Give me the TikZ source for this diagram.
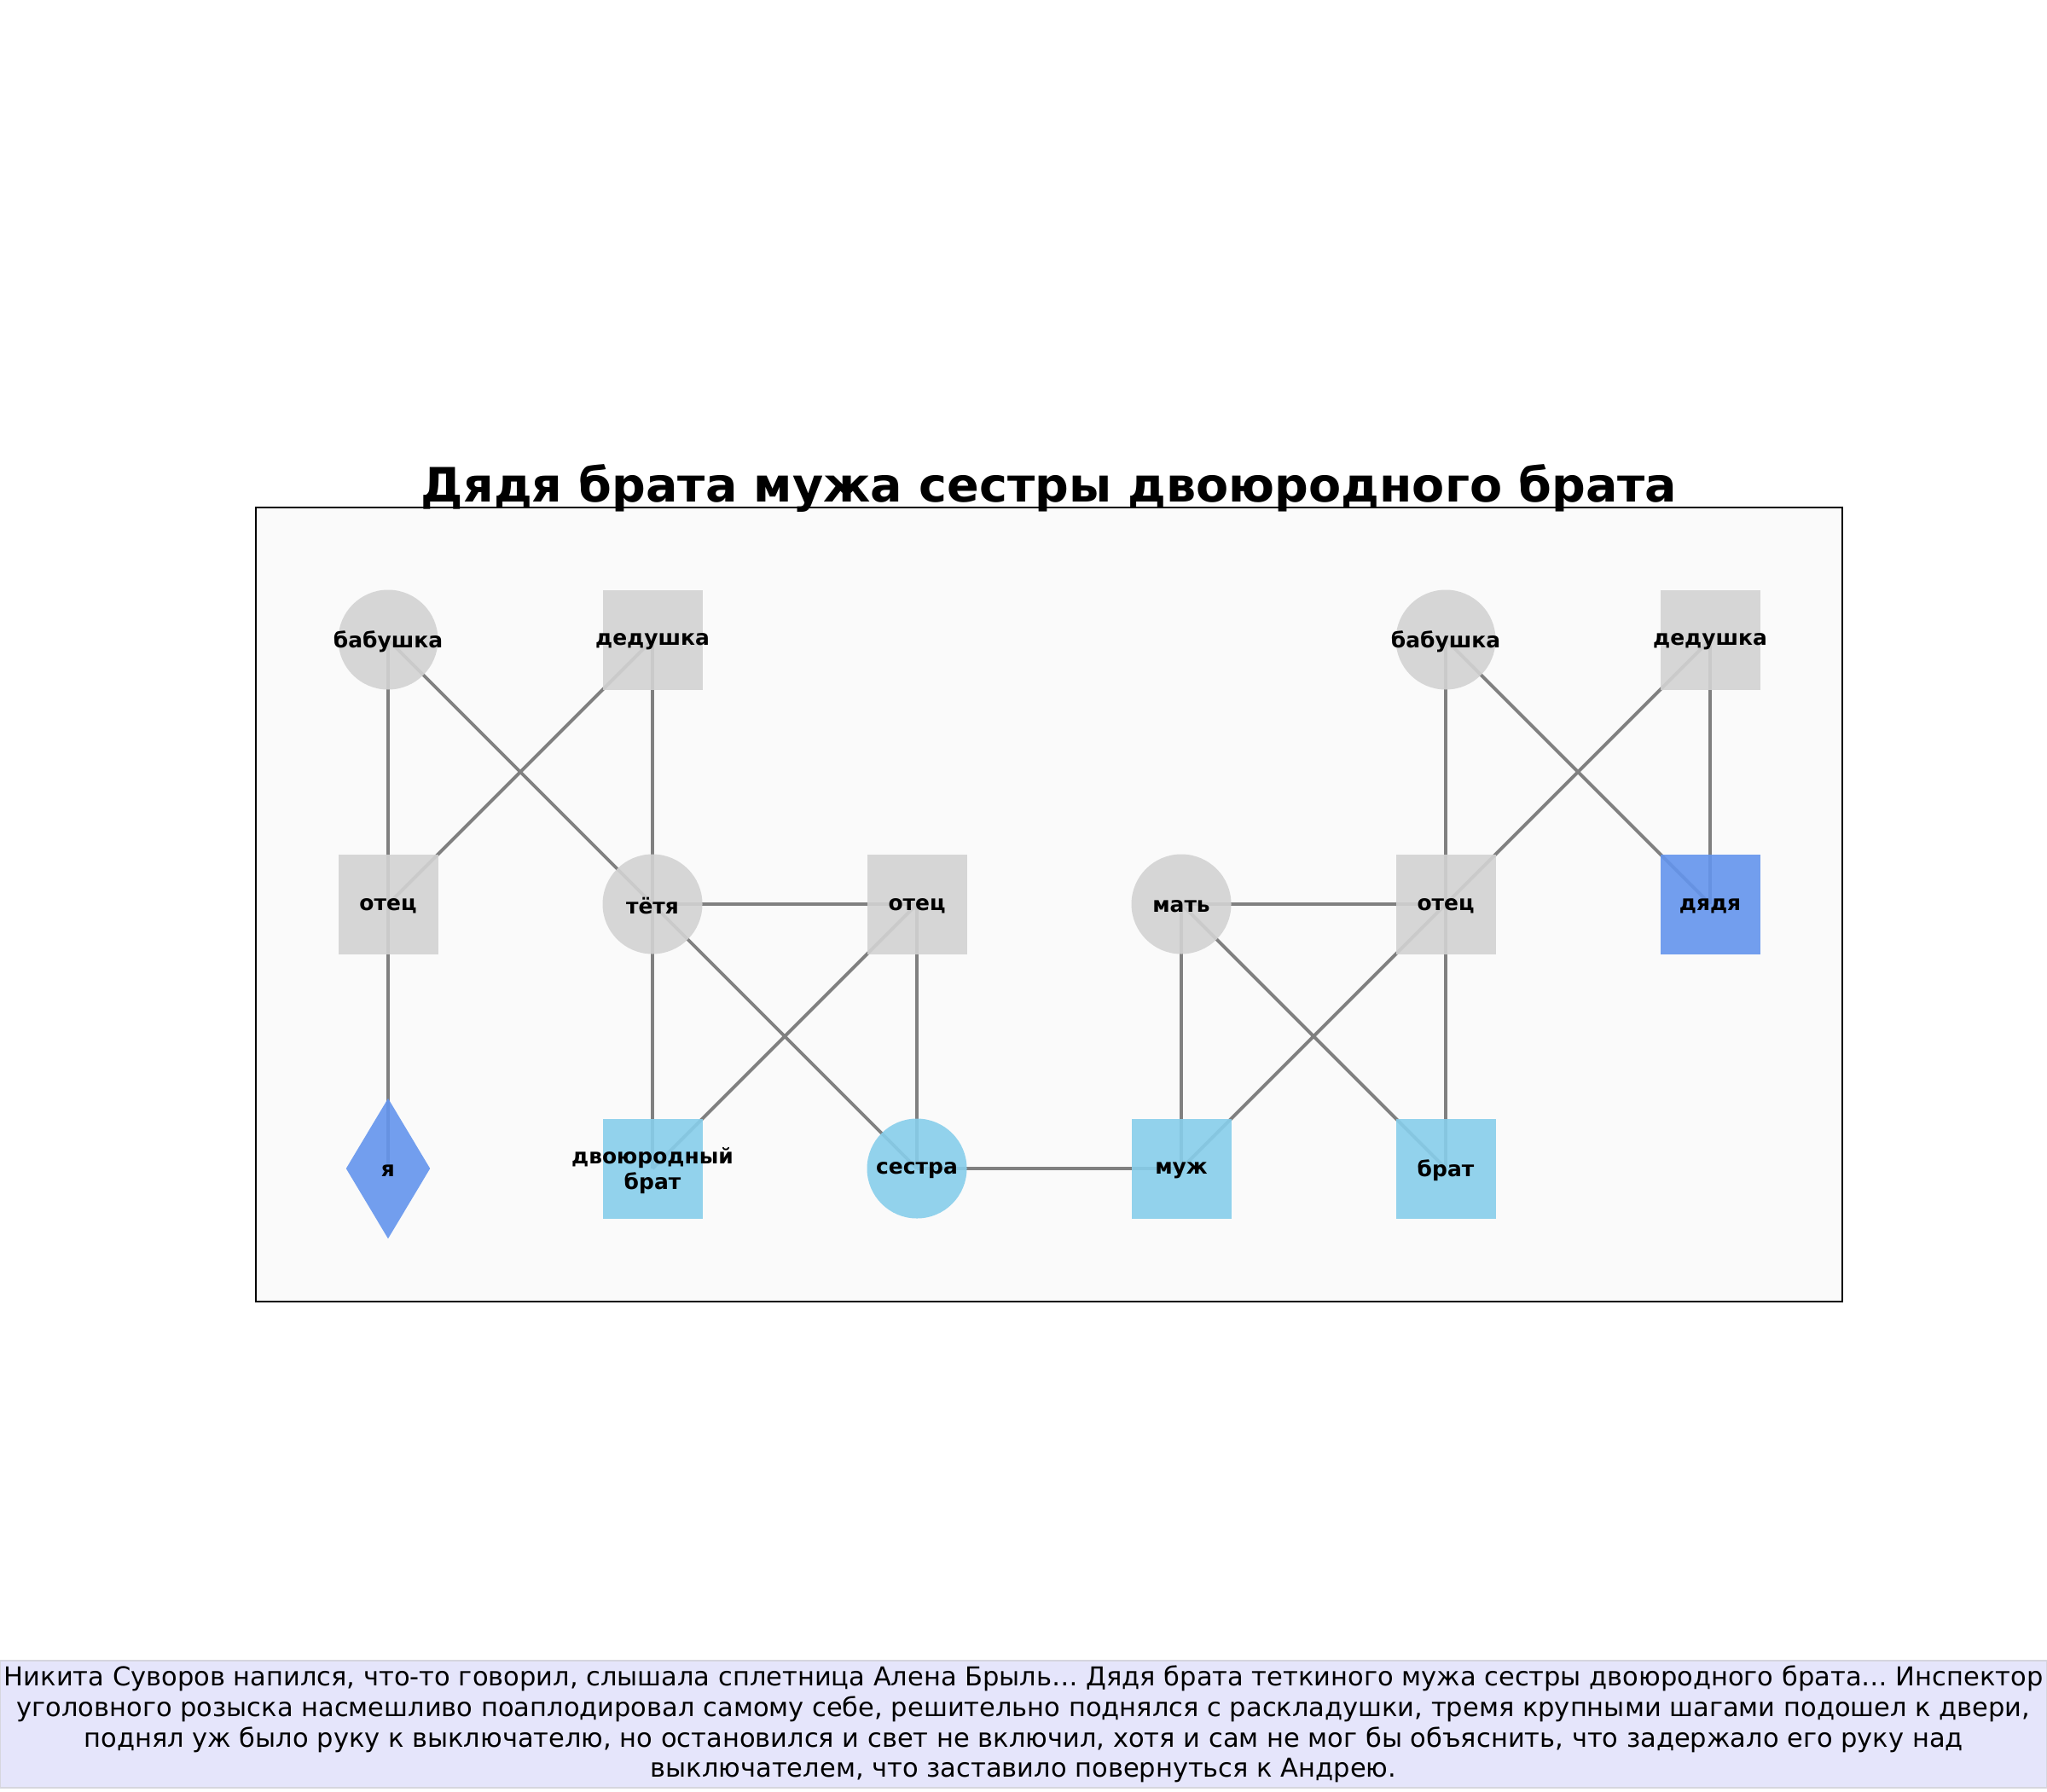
\documentclass[tikz,border=0pt]{standalone}
\usepackage{fontspec}
\setmainfont{DejaVu Sans}
\usetikzlibrary{positioning, shapes.geometric}
\pgfdeclarelayer{panel}
\pgfdeclarelayer{links}
\pgfsetlayers{panel,links,main}
\definecolor{kin}{HTML}{D3D3D3}
\definecolor{sky}{HTML}{87CEEB}
\definecolor{cblue}{HTML}{6495ED}
\definecolor{linkgray}{HTML}{808080}
\definecolor{panelfill}{HTML}{FAFAFA}
\definecolor{storyfill}{HTML}{E5E5FB}
\definecolor{storyline}{HTML}{D6D6DE}

\begin{document}
\begin{tikzpicture}[node distance=3.1cm, on grid,
                person/.style={inner sep=0pt, minimum size=1.17cm, fill opacity=0.9, draw=none},
                sq/.style={person, rectangle},
                rd/.style={person, circle},
                tag/.style={font=\bfseries\fontsize{7.1}{8.5}\selectfont, align=center,
                    text opacity=1, fill opacity=1, yshift=-0.025cm},
                who/.style={label={[tag]center:#1}},
                elder/.style={fill=kin},
                young/.style={fill=sky},
                mark blue/.style={fill=cblue},
                link/.style={draw=linkgray, line width=1.1pt},
                storybox/.style={draw=storyline, line width=0.4pt, fill=storyfill, inner sep=0pt,
                    minimum width=24cm, minimum height=1.49cm, align=center,
                    font=\fontsize{8.68}{10.16}\selectfont}]
                \useasboundingbox (0,0) rectangle (24,21);
                \begin{pgfonlayer}{panel}
                    \draw[line width=0.4pt, fill=panelfill] (3.0,5.74) rectangle (21.6,15.05);
                \end{pgfonlayer}
                \node[font=\bfseries\fontsize{15.8}{19}\selectfont, anchor=base] (title) at (12.30,15.12)
                    {Дядя брата мужа сестры двоюродного брата};
                % upper row
                \node[rd, elder, who=бабушка] (gm1) at (4.55,13.5) {};
                \node[sq, elder, who=дедушка, right=of gm1] (gf1) {};
                % middle row
                \node[sq, elder, who=отец, below=of gm1] (f1) {};
                \node[rd, elder, who=тётя, right=of f1] (aunt) {};
                \node[sq, elder, who=отец, right=of aunt] (f2) {};
                \node[rd, elder, who=мать, right=of f2] (mom) {};
                \node[sq, elder, who=отец, right=of mom] (f3) {};
                \node[sq, mark blue, who=дядя, right=of f3] (uncle) {};
                \node[rd, elder, who=бабушка, above=of f3] (gm2) {};
                \node[sq, elder, who=дедушка, above=of uncle] (gf2) {};
                % lower row
                \node[person, diamond, minimum width=0.99cm, minimum height=1.65cm, mark blue,
                    who=я, below=of f1] (me) {};
                \node[sq, young, who={двоюродный\\брат}, below=of aunt] (cousin) {};
                \node[rd, young, who=сестра, below=of f2] (sis) {};
                \node[sq, young, who=муж, below=of mom] (hus) {};
                \node[sq, young, who=брат, below=of f3] (bro) {};
                \begin{pgfonlayer}{links}
                    \draw[link] (gm1.center) -- (f1.center);
                    \draw[link] (gm1.center) -- (aunt.center);
                    \draw[link] (gf1.center) -- (f1.center);
                    \draw[link] (gf1.center) -- (aunt.center);
                    \draw[link] (f1.center) -- (me.center);
                    \draw[link] (aunt.center) -- (f2.center);
                    \draw[link] (aunt.center) -- (cousin.center);
                    \draw[link] (aunt.center) -- (sis.center);
                    \draw[link] (f2.center) -- (cousin.center);
                    \draw[link] (f2.center) -- (sis.center);
                    \draw[link] (sis.center) -- (hus.center);
                    \draw[link] (mom.center) -- (f3.center);
                    \draw[link] (mom.center) -- (hus.center);
                    \draw[link] (mom.center) -- (bro.center);
                    \draw[link] (f3.center) -- (hus.center);
                    \draw[link] (f3.center) -- (bro.center);
                    \draw[link] (gm2.center) -- (f3.center);
                    \draw[link] (gm2.center) -- (uncle.center);
                    \draw[link] (gf2.center) -- (f3.center);
                    \draw[link] (gf2.center) -- (uncle.center);
                \end{pgfonlayer}
                % caption
                \node[storybox] (story) at (12,0.785)
                    {Никита Суворов напился, что-то говорил, слышала сплетница Алена Брыль… Дядя брата теткиного мужа сестры двоюродного брата… Инспектор\\
                     уголовного розыска насмешливо поаплодировал самому себе, решительно поднялся с раскладушки, тремя крупными шагами подошел к двери,\\
                     поднял уж было руку к выключателю, но остановился и свет не включил, хотя и сам не мог бы объяснить, что задержало его руку над\\
                     выключателем, что заставило повернуться к Андрею.};
            \end{tikzpicture}
\end{document}
